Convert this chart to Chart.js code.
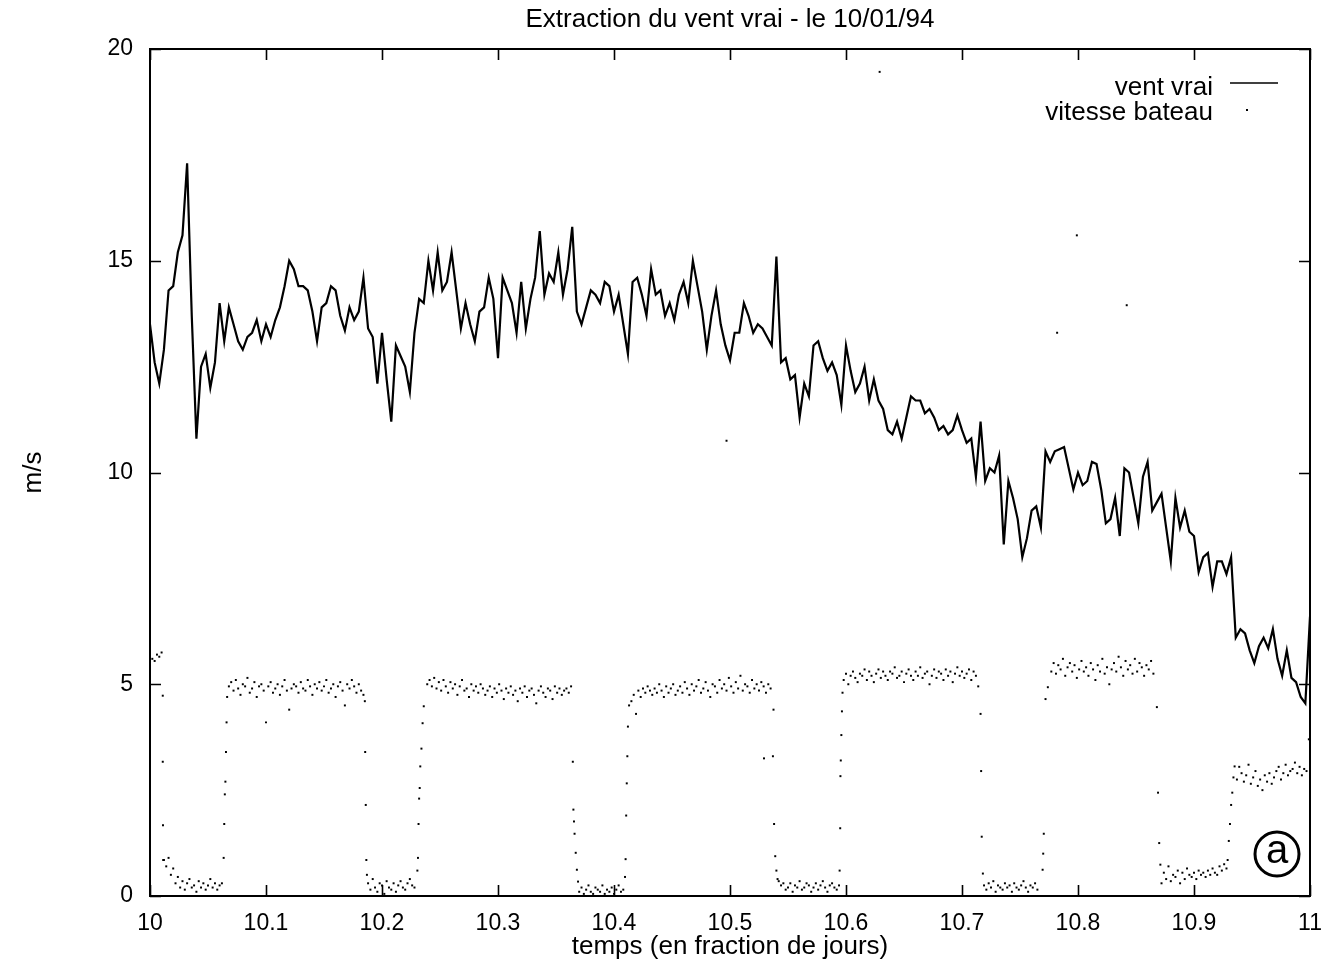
<!DOCTYPE html>
<html>
<head>
<meta charset="utf-8">
<script src="https://cdn.jsdelivr.net/npm/chart.js@4.4.1/dist/chart.umd.min.js"></script>
<style>
html,body{margin:0;padding:0;background:#fff;}
canvas{display:block;}
</style>
</head>
<body>
<canvas id="c" width="1340" height="967"></canvas>
<script>
// ---------- text ----------
const chartTitle = "Extraction du vent vrai - le 10/01/94";
const xAxisTitle = "temps (en fraction de jours)";
const yAxisTitle = "m/s";
const seriesNames = ["vent vrai", "vitesse bateau"];
const panelMark = "a";

// ---------- tick labels ----------
const xTicks = [10, 10.1, 10.2, 10.3, 10.4, 10.5, 10.6, 10.7, 10.8, 10.9, 11];
const yTicks = [0, 5, 10, 15, 20];

// ---------- true wind (m/s), sampled every 0.004 day from 10.0 ----------
const windT0 = 10.0;
const windDt = 0.004;
const windSpeed = [
  13.5,12.6,12.1,12.9,14.3,14.4,15.2,15.6,17.3,13.7,10.8,12.5,12.8,12.0,12.6,14.0,13.1,13.9,13.5,13.1,
  12.9,13.2,13.3,13.6,13.1,13.5,13.2,13.6,13.9,14.4,15.0,14.8,14.4,14.4,14.3,13.8,13.1,13.9,14.0,14.4,
  14.3,13.7,13.35,13.9,13.6,13.8,14.6,13.4,13.2,12.1,13.3,
  12.2,11.2,13.0,12.75,12.5,11.9,13.3,14.1,14.0,15.0,14.3,15.2,14.3,14.5,15.2,14.3,13.4,14.0,13.5,13.1,
  13.8,13.9,14.6,14.1,12.7,14.6,14.3,14.0,13.3,14.5,13.4,14.1,14.6,15.7,14.2,14.7,14.5,15.2,14.2,14.8,
  15.8,13.8,13.5,13.9,14.3,14.2,14.0,14.5,14.4,13.8,
  14.2,13.5,12.8,14.5,14.6,14.2,13.7,14.8,14.2,14.3,13.7,14.0,13.6,14.2,14.5,14.0,15.0,14.4,13.8,12.9,
  13.7,14.3,13.5,13.0,12.65,13.3,13.3,14.0,13.7,13.3,13.5,13.4,13.2,13.0,15.1,12.6,12.7,12.2,12.3,11.3,
  12.1,11.8,13.0,13.1,12.7,12.4,12.6,12.3,11.6,13.0,
  12.4,11.9,12.1,12.5,11.7,12.2,11.7,11.5,11.0,10.9,11.2,10.8,11.3,11.8,11.7,11.7,11.4,11.5,11.3,11.0,
  11.1,10.9,11.0,11.35,11.0,10.7,10.8,9.9,11.2,9.8,10.1,10.0,10.4,8.3,9.8,9.4,8.9,8.0,8.45,9.1,
  9.2,8.7,10.5,10.25,10.5,10.55,10.6,10.1,9.6,10.0,
  9.7,9.8,10.25,10.2,9.6,8.8,8.9,9.4,8.5,10.1,10.0,9.4,8.8,9.9,10.25,9.1,9.3,9.5,8.7,7.9,
  9.4,8.7,9.1,8.6,8.5,7.65,8.0,8.1,7.3,7.9,7.9,7.6,8.0,6.1,6.3,6.2,5.8,5.5,5.9,6.1,
  5.85,6.3,5.6,5.2,5.8,5.15,5.05,4.7,4.55,6.6
];

// ---------- boat speed (m/s): runs sampled every 0.002 day ----------
const boatDt = 0.002;
const boatRunStart = [10.000, 10.012, 10.068, 10.188, 10.239, 10.370, 10.415, 10.542, 10.598, 10.719, 10.777, 10.872, 10.937];
const boatRun01 = [5.5,5.6,5.55,5.7,5.65,5.75];
const boatRun02 = [0.85,0.7,0.9,0.5,0.65,0.3,0.45,0.2,0.35,0.15,0.3,0.4,0.2,0.25,0.1,0.35,0.2,0.3,0.15,0.25,0.4,0.2,0.3,0.15,0.25,0.3];
const boatRun03 = [4.95,5.05,4.85,5.1,4.9,4.75,5.0,4.95,5.15,4.8,4.9,5.05,4.7,4.95,5.0,4.85,4.1,4.95,5.05,4.8,
  4.9,5.0,4.75,4.95,5.1,4.85,4.4,4.9,5.0,4.95,4.8,5.05,4.9,4.85,5.1,4.95,4.75,5.0,4.9,5.05,
  4.85,4.95,5.1,4.8,4.9,5.0,4.7,4.95,5.05,4.85,4.5,5.0,4.9,5.1,4.95,4.8,5.0,4.85,4.75];
const boatRun04 = [0.3,0.15,0.4,0.2,0.1,0.3,0.25,0.05,0.35,0.2,0.15,0.3,0.1,0.25,0.35,0.2,0.15,0.3,0.4,0.25,0.2];
const boatRun05 = [5.0,5.1,4.95,5.15,4.9,5.05,4.85,5.1,4.95,4.8,5.05,4.9,5.0,4.75,4.95,5.1,4.85,4.9,4.7,5.0,
  4.85,4.95,4.8,5.0,4.9,4.75,4.85,4.95,4.7,4.9,4.8,5.0,4.85,4.65,4.9,4.8,4.95,4.75,4.85,4.6,
  4.9,4.8,4.95,4.7,4.85,4.9,4.75,4.55,4.85,4.95,4.8,4.7,4.9,4.85,4.65,4.95,4.8,4.9,4.75,4.85,4.9,4.8,4.95];
const boatRun06 = [0.1,0.2,0.05,0.15,0.25,0.1,0.05,0.2,0.15,0.1,0.25,0.05,0.15,0.1,0.2,0.05,0.15,0.25,0.1,0.15];
const boatRun07 = [4.6,4.75,4.3,4.85,4.7,4.9,4.8,4.95,4.85,4.75,4.9,4.8,5.0,4.85,4.7,4.95,4.8,4.9,5.0,4.75,
  4.85,4.95,4.8,5.05,4.9,4.75,5.0,4.85,4.95,5.1,4.8,4.9,5.05,4.85,4.7,5.0,4.95,4.8,5.1,4.9,
  5.0,4.85,5.15,4.95,4.8,5.05,4.9,5.2,4.85,5.0,4.95,4.8,5.1,4.9,5.0,4.85,5.05,4.95,4.8,5.0,4.9];
const boatRun08 = [0.35,0.25,0.3,0.15,0.2,0.3,0.1,0.25,0.2,0.35,0.15,0.2,0.3,0.25,0.1,0.2,0.3,0.15,0.25,0.35,0.2,0.1,0.25,0.3,0.2,0.15,0.25];
const boatRun09 = [5.1,5.25,5.0,5.2,5.3,5.15,5.05,5.25,5.2,5.35,5.1,5.3,5.2,5.05,5.25,5.35,5.15,5.3,5.2,5.1,
  5.3,5.25,5.4,5.15,5.2,5.3,5.05,5.25,5.35,5.2,5.1,5.3,5.2,5.4,5.15,5.25,5.3,5.0,5.2,5.35,
  5.15,5.3,5.25,5.1,5.35,5.2,5.3,5.05,5.25,5.4,5.2,5.3,5.15,5.25,5.35,5.1,5.3,5.2,4.95];
const boatRun10 = [0.25,0.15,0.3,0.2,0.35,0.1,0.25,0.2,0.15,0.3,0.2,0.25,0.1,0.3,0.2,0.15,0.25,0.35,0.2,0.1,0.25,0.2,0.3,0.15];
const boatRun11 = [5.3,5.5,5.25,5.45,5.35,5.6,5.2,5.4,5.5,5.3,5.45,5.15,5.35,5.55,5.3,5.4,5.2,5.5,5.35,5.1,
  5.45,5.3,5.6,5.25,5.4,5.0,5.35,5.5,5.3,5.65,5.4,5.2,5.55,5.35,5.45,5.25,5.6,5.3,5.5,5.4,
  5.2,5.45,5.35,5.55,5.25];
const boatRun12 = [0.3,0.55,0.4,0.7,0.35,0.5,0.45,0.6,0.3,0.55,0.4,0.65,0.5,0.45,0.55,0.4,0.6,0.5,0.55,0.45,
  0.6,0.5,0.65,0.55,0.5,0.7,0.6,0.75,0.65];
const boatRun13 = [2.75,3.05,2.9,2.7,2.85,3.1,2.65,2.8,2.95,2.6,2.75,2.5,2.85,2.7,2.9,2.65,2.8,2.95,3.05,2.75,
  2.9,3.1,2.85,2.95,3.0,3.15,2.9,3.05,2.85,3.0,2.95,3.7];
const boatRuns = [boatRun01,boatRun02,boatRun03,boatRun04,boatRun05,boatRun06,boatRun07,boatRun08,boatRun09,boatRun10,boatRun11,boatRun12,boatRun13];

// boat speed during starts / stops (fast vertical transitions)
const boatJumpTimes = [
  10.011,10.011,10.0112,10.0114,
  10.0635,10.064,10.0645,10.065,10.0655,10.066,10.0665,
  10.1852,10.1855,10.186,10.1865,10.187,
  10.2305,10.231,10.2315,10.232,10.2325,10.233,10.234,10.235,10.236,
  10.3645,10.365,10.3655,10.366,10.367,10.368,10.369,
  10.4095,10.410,10.4105,10.411,10.4115,10.412,10.413,
  10.5375,10.538,10.539,10.540,10.541,
  10.5945,10.595,10.5952,10.5955,10.596,10.5965,10.597,
  10.716,10.7165,10.717,10.718,
  10.7695,10.770,10.7705,10.772,10.774,
  10.868,10.869,10.870,10.871,
  10.929,10.930,10.931,10.932,10.933,10.934,10.935
];
const boatJumpValues = [
  4.73,3.17,1.67,0.85,
  0.9,1.7,2.4,2.7,3.4,4.1,4.7,
  4.6,3.4,2.15,0.85,0.5,
  0.6,0.9,1.7,2.3,2.55,3.06,3.48,4.08,4.48,
  3.17,2.04,1.76,1.47,1.02,0.62,0.34,
  0.45,0.87,1.9,2.66,3.3,4.0,4.5,
  4.4,1.7,0.94,0.6,0.4,
  0.6,1.6,2.83,3.2,3.8,4.36,4.8,
  4.3,2.95,1.4,0.53,
  0.62,1.0,1.47,4.65,4.93,
  4.46,2.44,1.25,0.74,
  0.85,1.3,1.7,2.15,2.44,2.8,3.06
];
// isolated stray boat-speed points
const boatOutlierTimes = [10.497, 10.5293, 10.537, 10.629, 10.782, 10.799, 10.842];
const boatOutlierValues = [10.75, 3.25, 3.3, 19.46, 13.3, 15.6, 13.95];

// ---------- build datasets ----------
const windPoints = windSpeed.map((v, i) => ({x: windT0 + i * windDt, y: v}));
const boatPoints = [];
boatRuns.forEach((run, r) => run.forEach((v, i) => boatPoints.push({x: boatRunStart[r] + i * boatDt, y: v})));
boatJumpTimes.forEach((t, i) => boatPoints.push({x: t, y: boatJumpValues[i]}));
boatOutlierTimes.forEach((t, i) => boatPoints.push({x: t, y: boatOutlierValues[i]}));

const FONT = "'Liberation Sans', Arial, Helvetica, sans-serif";

const framePlugin = {
  id: 'frame',
  afterDatasetsDraw(chart) {
    const {ctx, chartArea: a, scales: {x, y}} = chart;
    ctx.save();
    ctx.strokeStyle = '#000';
    ctx.lineWidth = 2;
    ctx.strokeRect(a.left, a.top, a.right - a.left, a.bottom - a.top);
    ctx.lineWidth = 1.6;
    ctx.beginPath();
    const tl = 11;
    x.ticks.forEach(t => {
      const px = Math.round(x.getPixelForValue(t.value)) + 0.5;
      ctx.moveTo(px, a.bottom); ctx.lineTo(px, a.bottom - tl);
      ctx.moveTo(px, a.top); ctx.lineTo(px, a.top + tl);
    });
    y.ticks.forEach(t => {
      const py = Math.round(y.getPixelForValue(t.value)) + 0.5;
      ctx.moveTo(a.left, py); ctx.lineTo(a.left + tl, py);
      ctx.moveTo(a.right, py); ctx.lineTo(a.right - tl, py);
    });
    ctx.stroke();

    // legend (top right, inside)
    ctx.fillStyle = '#000';
    ctx.font = '26px ' + FONT;
    ctx.textAlign = 'right';
    ctx.textBaseline = 'alphabetic';
    const lx = a.right - 97;
    ctx.fillText(chart.data.datasets[0].label, lx, a.top + 46);
    ctx.fillText(chart.data.datasets[1].label, lx, a.top + 71);
    ctx.lineWidth = 1.6;
    ctx.beginPath();
    ctx.moveTo(a.right - 80, a.top + 34);
    ctx.lineTo(a.right - 32, a.top + 34);
    ctx.stroke();
    ctx.fillRect(a.right - 64, a.top + 60, 2, 2);

    // circled panel mark
    const cx = a.right - 33, cy = a.bottom - 42;
    ctx.lineWidth = 3;
    ctx.beginPath();
    ctx.arc(cx, cy, 22, 0, Math.PI * 2);
    ctx.stroke();
    ctx.font = '40px ' + FONT;
    ctx.textAlign = 'center';
    ctx.textBaseline = 'middle';
    ctx.fillText(panelMark, cx, cy - 2);
    ctx.restore();
  }
};

new Chart(document.getElementById('c'), {
  type: 'scatter',
  data: {
    datasets: [
      {
        label: seriesNames[0],
        data: windPoints,
        showLine: true,
        borderColor: '#000',
        borderWidth: 2.2,
        pointRadius: 0,
        tension: 0,
        order: 2
      },
      {
        label: seriesNames[1],
        data: boatPoints,
        showLine: false,
        pointStyle: 'rect',
        pointRadius: 1.4,
        backgroundColor: '#000',
        borderWidth: 0,
        order: 1
      }
    ]
  },
  options: {
    responsive: false,
    animation: false,
    devicePixelRatio: 1,
    layout: {padding: {left: 0, right: 30, top: 0, bottom: 0}},
    plugins: {
      legend: {display: false},
      tooltip: {enabled: false},
      title: {
        display: true,
        fullSize: false,
        text: chartTitle,
        color: '#000',
        font: {family: FONT, size: 26, weight: 'normal'},
        padding: {top: 4, bottom: 13.8}
      }
    },
    scales: {
      x: {
        type: 'linear',
        min: 10, max: 11,
        afterBuildTicks: s => { s.ticks = xTicks.map(v => ({value: v})); },
        afterFit: s => { s.height = 71; s.paddingLeft = 0; s.paddingRight = 0; },
        grid: {display: false, drawTicks: false},
        border: {display: false},
        ticks: {
          color: '#000',
          font: {family: FONT, size: 23},
          padding: 14,
          maxRotation: 0,
          autoSkip: false,
          callback: v => String(Number(v.toFixed(1)))
        },
        title: {
          display: true,
          text: xAxisTitle,
          color: '#000',
          font: {family: FONT, size: 26},
          padding: {top: 0, bottom: 5}
        }
      },
      y: {
        type: 'linear',
        min: 0, max: 20,
        afterBuildTicks: s => { s.ticks = yTicks.map(v => ({value: v})); },
        afterFit: s => { s.width = 150; s.paddingTop = 0; s.paddingBottom = 0; },
        grid: {display: false, drawTicks: false},
        border: {display: false},
        ticks: {
          color: '#000',
          font: {family: FONT, size: 23},
          padding: 17,
          autoSkip: false,
          callback: v => String(v)
        },
        title: {
          display: true,
          text: yAxisTitle,
          color: '#000',
          font: {family: FONT, size: 26},
          padding: {top: 18, bottom: 0}
        }
      }
    }
  },
  plugins: [framePlugin]
});
</script>
</body>
</html>
